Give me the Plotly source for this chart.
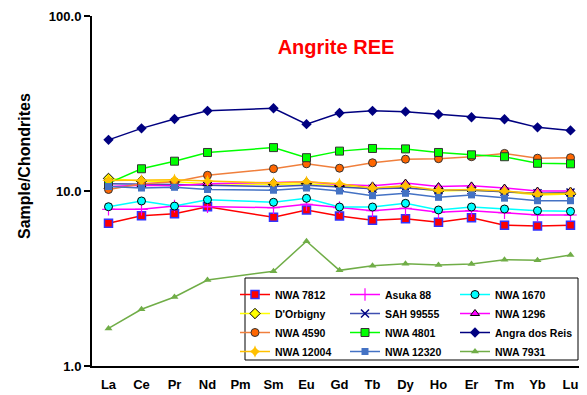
import plotly.graph_objects as go

elements = ["La", "Ce", "Pr", "Nd", "Pm", "Sm", "Eu", "Gd", "Tb", "Dy", "Ho", "Er", "Tm", "Yb", "Lu"]

nwa_7812 = [6.54, 7.22, 7.42, 8.13, None, 7.07, 7.79, 7.20, 6.80, 6.94, 6.62, 7.04, 6.37, 6.31, 6.37]
asuka_88 = [7.86, 7.86, 8.20, 8.13, None, 8.03, 8.39, 8.03, 7.72, 7.96, 7.55, 7.72, 7.52, 7.29, 7.29]
nwa_1670 = [8.13, 8.77, 8.20, 8.92, None, 8.62, 9.08, 8.10, 8.10, 8.50, 7.79, 8.10, 7.89, 7.72, 7.65]
dorbigny = [11.8, 11.4, 11.3, 11.0, None, 10.9, 11.0, 10.7, 10.3, 10.5, 10.0, 10.1, 9.9, 9.5, 9.6]
sah_99555 = [11.0, 11.0, 10.9, 10.8, None, 10.6, 10.8, 10.5, 10.3, 10.4, 10.1, 10.1, 9.9, 9.7, 9.8]
nwa_1296 = [10.6, 10.8, 10.7, 11.0, None, 11.2, 11.3, 10.9, 10.7, 11.1, 10.6, 10.7, 10.4, 10.0, 10.0]
nwa_4590 = [10.2, 11.0, 11.3, 12.3, None, 13.4, 14.3, 13.5, 14.5, 15.2, 15.3, 15.7, 16.4, 15.4, 15.5]
nwa_4801 = [11.1, 13.4, 14.8, 16.6, None, 17.7, 15.5, 16.9, 17.5, 17.4, 16.6, 16.1, 15.7, 14.4, 14.3]
angra_dos_reis = [19.6, 22.8, 25.8, 28.7, None, 29.7, 24.1, 27.9, 28.7, 28.4, 27.4, 26.4, 25.7, 23.1, 22.2]
nwa_12004 = [11.5, 11.5, 11.6, 11.4, None, 11.1, 11.3, 11.0, 10.4, 10.7, 10.1, 10.2, 10.0, 9.6, 9.7]
nwa_12320 = [10.6, 10.4, 10.5, 10.2, None, 10.1, 10.4, 10.0, 9.4, 9.7, 9.2, 9.5, 9.1, 8.8, 8.8]
nwa_7931 = [1.64, 2.11, 2.48, 3.10, None, 3.48, 5.16, 3.52, 3.74, 3.84, 3.78, 3.83, 4.05, 4.02, 4.31]

y_tick_vals = [1, 10, 100]
y_tick_text = ["1.0", "10.0", "100.0"]

# (name, values, line colour, marker, legend column)
series = [
    ("NWA 7812", nwa_7812, "#ff0000", dict(symbol="square", color="#ff0000", size=8, line=dict(color="#3333ff", width=1.5)), "legend"),
    ("Asuka 88", asuka_88, "#ff00ff", dict(symbol="cross-thin", color="#ff00ff", size=9, line=dict(color="#ff00ff", width=1.2)), "legend2"),
    ("NWA 1670", nwa_1670, "#00ffff", dict(symbol="circle", color="#00ffff", size=8, line=dict(color="#000000", width=1)), "legend3"),
    ("D'Orbigny", dorbigny, "#ffff00", dict(symbol="diamond", color="#ffff00", size=8, line=dict(color="#000000", width=1)), "legend"),
    ("SAH 99555", sah_99555, "#3f4fb0", dict(symbol="x-thin", color="#000080", size=8, line=dict(color="#000080", width=1.5)), "legend2"),
    ("NWA 1296", nwa_1296, "#ff00ff", dict(symbol="triangle-up", color="#ff00ff", size=8, line=dict(color="#000000", width=1)), "legend3"),
    ("NWA 4590", nwa_4590, "#f07f3c", dict(symbol="circle", color="#ff6600", size=8, line=dict(color="#333333", width=1)), "legend"),
    ("NWA 4801", nwa_4801, "#00ff00", dict(symbol="square", color="#00ff00", size=8, line=dict(color="#333333", width=1)), "legend2"),
    ("Angra dos Reis", angra_dos_reis, "#000080", dict(symbol="diamond", color="#000080", size=8, line=dict(color="#000080", width=0)), "legend3"),
    ("NWA 12004", nwa_12004, "#ffc000", dict(symbol="star-diamond", color="#ffc000", size=9, line=dict(color="#ffc000", width=0)), "legend"),
    ("NWA 12320", nwa_12320, "#4472c4", dict(symbol="square", color="#4472c4", size=7, line=dict(color="#4472c4", width=0)), "legend2"),
    ("NWA 7931", nwa_7931, "#70ad47", dict(symbol="triangle-up", color="#70ad47", size=7, line=dict(color="#70ad47", width=0)), "legend3"),
]

# page body has an 8px margin, so the figure is drawn offset by 8px
OFF = 8
W, H = 587 - OFF, 395 - OFF
L, R, T, B = 92 - OFF, 0, 16 - OFF, 29
PW, PH = W - L - R, H - T - B


def px_x(p):
    return (p - OFF - L) / PW


def px_y(p):
    return (H - B - (p - OFF)) / PH


fig = go.Figure()
for name, vals, lc, mk, lg in series:
    fig.add_trace(go.Scatter(
        x=elements, y=vals, name=name, mode="lines+markers",
        line=dict(color=lc, width=1.5), marker=mk, connectgaps=True, legend=lg,
    ))

font_family = "Arial, Liberation Sans, sans-serif"
leg_common = dict(
    orientation="v", xanchor="left", yanchor="top",
    bgcolor="rgba(0,0,0,0)", borderwidth=0,
    font=dict(size=10.5, family=font_family, color="black", weight="bold"),
    itemwidth=30, traceorder="normal",
)

fig.update_layout(
    width=W, height=H,
    margin=dict(l=L, r=R, t=T, b=B, autoexpand=False),
    paper_bgcolor="white", plot_bgcolor="white",
    font=dict(family=font_family, color="black"),
    title=dict(text="<b>Angrite REE</b>", font=dict(size=20, color="#ff0000", family=font_family),
               x=(336 - OFF) / W, xanchor="center", y=1 - (47 - OFF) / H, yanchor="middle"),
    showlegend=True,
    legend=dict(x=px_x(235), y=px_y(280), **leg_common),
    legend2=dict(x=px_x(345), y=px_y(280), **leg_common),
    legend3=dict(x=px_x(455), y=px_y(280), **leg_common),
    shapes=[dict(type="rect", xref="paper", yref="paper",
                 x0=px_x(245), x1=px_x(578), y0=px_y(360), y1=px_y(278),
                 line=dict(color="black", width=1), fillcolor="white", layer="above")],
    annotations=[dict(text="<b>Sample/Chondrites</b>", xref="paper", yref="paper",
                      x=px_x(24), y=px_y(166), xanchor="center", yanchor="middle",
                      textangle=-90, showarrow=False,
                      font=dict(size=16, family=font_family, color="black"))],
    xaxis=dict(
        type="category", categoryorder="array", categoryarray=elements,
        range=[-0.5, 14.5], showgrid=False, showline=True, linecolor="black", linewidth=2,
        ticks="outside", ticklen=5, tickcolor="rgba(0,0,0,0)",
        tickfont=dict(size=13, family=font_family), tickprefix="<b>", ticksuffix="</b>",
        zeroline=False, automargin=False,
    ),
    yaxis=dict(
        type="log", range=[0, 2], showgrid=False, showline=True, linecolor="black", linewidth=2,
        tickvals=y_tick_vals, ticktext=["<b>" + t + "</b>" for t in y_tick_text],
        ticks="outside", ticklen=6, tickwidth=2, tickcolor="black",
        tickfont=dict(size=13, family=font_family),
        zeroline=False, automargin=False,
    ),
)

fig.write_html("out.html")
